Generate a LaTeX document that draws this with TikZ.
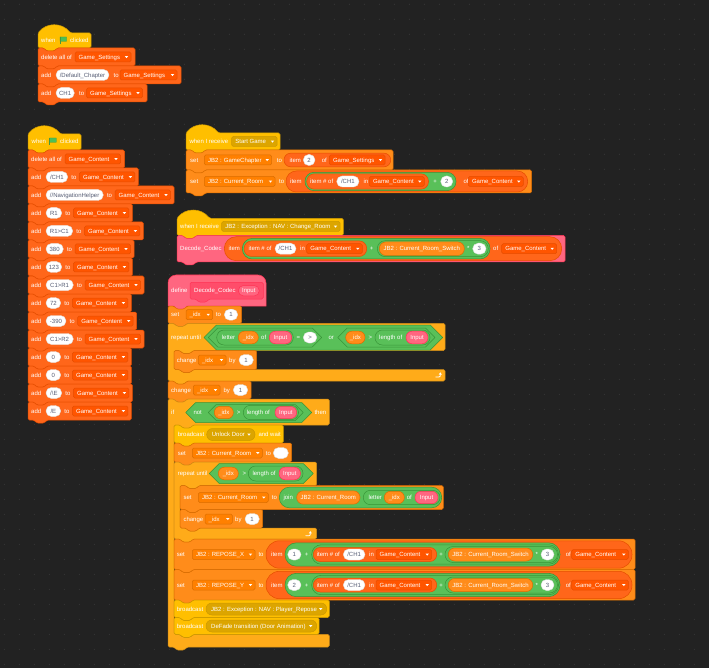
\documentclass[tikz,border=0pt]{standalone}
\usepackage{fontspec}
\setmainfont{Liberation Sans}
\usetikzlibrary{arrows.meta}
\definecolor{bg}{HTML}{222222}
\definecolor{dotc}{HTML}{3A3A3A}
\definecolor{evP}{HTML}{FFBF00}\definecolor{evS}{HTML}{DCA500}\definecolor{evT}{HTML}{CC9900}
\definecolor{lsP}{HTML}{FF661A}\definecolor{lsS}{HTML}{FF5500}\definecolor{lsT}{HTML}{E64D00}
\definecolor{vaP}{HTML}{FF8C1A}\definecolor{vaS}{HTML}{FF8000}\definecolor{vaT}{HTML}{DB6E00}
\definecolor{coP}{HTML}{FFAB19}\definecolor{coT}{HTML}{CF8B17}
\definecolor{opP}{HTML}{59C059}\definecolor{opT}{HTML}{389438}
\definecolor{myP}{HTML}{FF6680}\definecolor{myS}{HTML}{FF4D6A}\definecolor{myT}{HTML}{FF3355}
\definecolor{ptxt}{HTML}{575E75}
\definecolor{flagg}{HTML}{4CBF56}\definecolor{flagd}{HTML}{45993D}
\newcounter{nc}
\newcommand\fs{\fontsize{6}{7.2}\selectfont}
\tikzset{
  ev/.style={fill=evP,draw=evT,line width=0.5pt},
  ls/.style={fill=lsP,draw=lsT,line width=0.5pt},
  va/.style={fill=vaP,draw=vaT,line width=0.5pt},
  co/.style={fill=coP,draw=coT,line width=0.5pt},
  op/.style={fill=opP,draw=opT,line width=0.5pt},
  my/.style={fill=myP,draw=myT,line width=0.5pt},
  proto/.style={fill=myS,draw=myT,line width=0.5pt},
  lsdd/.style={fill=lsS,draw=lsT,line width=0.5pt},
  vadd/.style={fill=vaS,draw=vaT,line width=0.5pt},
  evdd/.style={fill=evS,draw=evT,line width=0.5pt},
  evhdd/.style={fill=evS,draw=evT,line width=0.5pt},
  wpst/.style={fill=white,draw=black!12,line width=0.4pt},
  txt/.style={anchor=base west,inner sep=0pt,font=\fs,text=white},
  gtxt/.style={anchor=base,inner sep=0pt,font=\fs,text=ptxt},
}
\newcommand\tx[3]{\stepcounter{nc}\node[txt] (t\arabic{nc}) at (#1,#2+2.1) {#3};}
\newcommand\sym[3]{\stepcounter{nc}\node[txt,anchor=base] (t\arabic{nc}) at (#1,#2+2.1) {#3};}
\newcommand\ddarr[2]{\fill[white] (#1-1.7,#2-0.9) -- (#1+1.7,#2-0.9) -- (#1,#2+1.1) -- cycle;}
\newcommand\ddn[5]{\path[#4,rounded corners=1.5] (#1,#3-5) rectangle (#2,#3+5); \tx{#1+3.5}{#3}{#5}\ddarr{#2-4.5}{#3}}
\newcommand\bdd[4]{\path[evdd,rounded corners=5.8] (#1,#3-6) rectangle (#2,#3+6); \tx{#1+5}{#3}{#4}\ddarr{#2-6}{#3}}
\newcommand\wpill[4]{\path[wpst,rounded corners=5.4] (#1,#3-5.5) rectangle (#2,#3+5.5); \stepcounter{nc}\node[gtxt] (t\arabic{nc}) at ({(#1+#2)/2},#3+2.1) {#4};}
\newcommand\repr[5]{\path[#5,rounded corners=#4*0.98] (#1,#3-#4) rectangle (#2,#3+#4);}
\newcommand\varp[5]{\repr{#1}{#2}{#3}{#4}{va}\stepcounter{nc}\node[txt,anchor=base] (t\arabic{nc}) at ({(#1+#2)/2},#3+2.1) {#5};}
\newcommand\argp[4]{\repr{#1}{#2}{#3}{#4}{my}\stepcounter{nc}\node[txt,anchor=base] (t\arabic{nc}) at ({(#1+#2)/2},#3+2.1) {Input};}
\newcommand\boolb[5]{\path[#5,line join=round] (#1,#3) -- (#1+#4,#3-#4) -- (#2-#4,#3-#4) -- (#2,#3) -- (#2-#4,#3+#4) -- (#1+#4,#3+#4) -- cycle;}
\newcommand\stk[5]{\path[#5,rounded corners=1.5] (#1,#2) -- (#1+6,#2) -- (#1+8.5,#2+3) -- (#1+16.5,#2+3) -- (#1+19,#2) -- (#3,#2) -- (#3,#4) -- (#1+19,#4) -- (#1+16.5,#4+3) -- (#1+8.5,#4+3) -- (#1+6,#4) -- (#1,#4) -- cycle;}
\newcommand\hatb[5]{\path[#5,rounded corners=1.5] (#1,#4) -- (#1,#2) .. controls (#1+8.5,#2-10.7) and (#1+24,#2-10.7) .. (#1+32.5,#2) -- (#3,#2) -- (#3,#4) -- (#1+19,#4) -- (#1+16.5,#4+3) -- (#1+8.5,#4+3) -- (#1+6,#4) -- cycle;}
\newcommand\defhat[5]{\path[#5] (#1,#4) -- (#1,#2+8) .. controls (#1,#2+3.6) and (#1+3.6,#2) .. (#1+8,#2) -- (#3-8,#2) .. controls (#3-3.6,#2) and (#3,#2+3.6) .. (#3,#2+8) -- (#3,#4) -- (#1+19,#4) -- (#1+16.5,#4+3) -- (#1+8.5,#4+3) -- (#1+6,#4) -- cycle;}
\newcommand\cblk[7]{\path[#7,rounded corners=1.5] (#1,#2) -- (#1+6,#2) -- (#1+8.5,#2+3) -- (#1+16.5,#2+3) -- (#1+19,#2) -- (#3,#2) -- (#3,#4) -- (#1+25,#4) -- (#1+22.5,#4+3) -- (#1+14.5,#4+3) -- (#1+12,#4) -- (#1+6,#4) -- (#1+6,#5) -- (#1+12,#5) -- (#1+14.5,#5+3) -- (#1+22.5,#5+3) -- (#1+25,#5) -- (#3,#5) -- (#3,#6) -- (#1+19,#6) -- (#1+16.5,#6+3) -- (#1+8.5,#6+3) -- (#1+6,#6) -- (#1,#6) -- cycle;}
\newcommand\flagicon[2]{\fill[flagg,draw=flagd,line width=0.3pt] (#1,#2-3.5) .. controls (#1+2,#2-4.8) and (#1+4,#2-2.2) .. (#1+6.5,#2-3.5) -- (#1+6.5,#2+0.8) .. controls (#1+4,#2+2.1) and (#1+2,#2-0.5) .. (#1,#2+0.8) -- cycle;
  \draw[flagd,line width=0.8pt] (#1,#2-3.9) -- (#1,#2+3.9);}
\newcommand\loopicon[2]{\draw[white,line width=0.8pt,line cap=round] (#1-2.5,#2+1.8) -- (#1+0.6,#2+1.8) .. controls (#1+2,#2+1.8) and (#1+2,#2+0.5) .. (#1+2,#2-0.8);
  \fill[white] (#1+0.5,#2-0.7) -- (#1+3.5,#2-0.7) -- (#1+2,#2-2.9) -- cycle;}
\newcommand\addrow[3]{\pgfmathsetmacro\qA{#2+11.7}\pgfmathsetmacro\qB{#2+67.2}\pgfmathsetmacro\qR{#2+70.7}\pgfmathsetmacro\qT{#1+18}\pgfmathsetmacro\qC{#1+9}%
  \stk{28}{#1}{\qR}{\qT}{ls}\tx{31}{\qC}{add}\wpill{46}{#2}{\qC}{#3}\tx{#2+3.5}{\qC}{to}\ddn{\qA}{\qB}{\qC}{lsdd}{Game\_Content}}
\newcommand\reposerow[3]{\pgfmathsetmacro\rT{#1}\pgfmathsetmacro\rC{#1+15.5}\pgfmathsetmacro\rB{#1+30.5}%
  \stk{174}{\rT}{635}{\rB}{va}
  \tx{176.7}{\rC}{set}
  \ddn{192.3}{255}{\rC}{vadd}{#2}
  \tx{258.3}{\rC}{to}
  \repr{266}{632}{\rC}{13.7}{ls}
  \tx{271}{\rC}{item}
  \repr{285}{560}{\rC}{11.7}{op}
  \wpill{287.7}{301}{\rC}{#3}
  \sym{306.5}{\rC}{+}
  \repr{311.7}{558.5}{\rC}{9.7}{op}
  \repr{313.3}{436.7}{\rC}{7}{ls}
  \tx{316.7}{\rC}{item \# of}
  \wpill{343.3}{365}{\rC}{/CH1}
  \tx{369}{\rC}{in}
  \ddn{376}{431.7}{\rC}{lsdd}{Game\_Content}
  \sym{441}{\rC}{+}
  \repr{445}{557.5}{\rC}{8}{op}
  \varp{448.3}{532.7}{\rC}{6.5}{JB2 : Current\_Room\_Switch}
  \sym{536.7}{\rC}{*}
  \wpill{541}{554}{\rC}{3}
  \tx{565.7}{\rC}{of}
  \ddn{571.7}{628.3}{\rC}{lsdd}{Game\_Content}}
\begin{document}
\begin{tikzpicture}[x=1pt,y=-1pt]
\useasboundingbox (0,0) rectangle (709,668);
\fill[bg] (0,0) rectangle (709,668);
\foreach \i in {0,...,47}{\foreach \j in {0,...,44}{\fill[dotc] (4.3+15*\i,4.3+15*\j) circle (0.55);}}

% ---------- Script 1 ----------
\hatb{38}{33}{91}{48}{ev}
\tx{41}{40.5}{when}\flagicon{60}{40.5}\tx{70}{40.5}{clicked}
\stk{38}{48}{135}{66}{ls}
\tx{41}{57}{delete all of}\ddn{75}{131}{57}{lsdd}{Game\_Settings}
\stk{38}{66}{181}{84}{ls}
\tx{41}{75}{add}\wpill{56}{109}{75}{/Default\_Chapter}\tx{113.5}{75}{to}\ddn{120}{177}{75}{lsdd}{Game\_Settings}
\stk{38}{84}{147}{102}{ls}
\tx{41}{93}{add}\wpill{56}{74.3}{93}{CH1}\tx{79}{93}{to}\ddn{86.5}{142.5}{93}{lsdd}{Game\_Settings}

% ---------- Script 2 ----------
\hatb{28}{134}{81}{150}{ev}
\tx{31.5}{141.5}{when}\flagicon{49.8}{141.5}\tx{60}{141.5}{clicked}
\stk{28}{150}{124.5}{168}{ls}
\tx{31}{159}{delete all of}\ddn{65}{120.5}{159}{lsdd}{Game\_Content}
\addrow{168}{67.7}{/CH1}
\addrow{186}{103.3}{//NavigationHelper}
\addrow{204}{61.7}{R1}
\addrow{222}{72.7}{R1>C1}
\addrow{240}{63.3}{380}
\addrow{258}{61.7}{123}
\addrow{276}{73.3}{C1>R1}
\addrow{294}{60.7}{72}
\addrow{312}{66}{-390}
\addrow{330}{73.3}{C1>R2}
\addrow{348}{60.7}{0}
\addrow{366}{60.7}{0}
\addrow{384}{61.7}{/\textbackslash E}
\addrow{402}{60.7}{/E}

% ---------- Script 3 ----------
\hatb{186}{133}{280}{150}{ev}
\tx{189.3}{141.5}{when I receive}\ddn{231.7}{277}{141.5}{evhdd}{Start Game}
\stk{186}{150}{393}{170}{va}
\tx{190}{160}{set}\ddn{204.3}{271.7}{160}{vadd}{JB2 : GameChapter}\tx{276.7}{160}{to}
\repr{284}{390.7}{160}{6.8}{ls}\tx{289.3}{160}{item}\wpill{303.3}{315}{160}{2}\tx{321.7}{160}{of}
\ddn{329.3}{385}{160}{lsdd}{Game\_Settings}
\stk{186}{170}{531.7}{193}{va}
\tx{190}{181.5}{set}\ddn{204.3}{275}{181.5}{vadd}{JB2 : Current\_Room}\tx{279}{181.5}{to}
\repr{286}{527.7}{181.5}{10.5}{ls}\tx{290}{181.5}{item}
\repr{305}{456}{181.5}{9.2}{op}
\repr{306.7}{428.5}{181.5}{7.7}{ls}\tx{310}{181.5}{item \# of}
\wpill{336.7}{359}{181.5}{/CH1}\tx{363.3}{181.5}{in}\ddn{369.3}{424.3}{181.5}{lsdd}{Game\_Content}
\sym{435}{181.5}{+}\wpill{440.7}{452.7}{181.5}{2}
\tx{463.3}{181.5}{of}\ddn{468.3}{523.3}{181.5}{lsdd}{Game\_Content}

% ---------- Script 4 ----------
\hatb{177}{218.3}{343.3}{235.5}{ev}
\tx{180}{226.5}{when I receive}\ddn{221.7}{340}{226.5}{evhdd}{JB2 : Exception : NAV : Change\_Room}
\stk{177}{235.5}{565}{262}{my}
\tx{180}{248.7}{Decode\_Codec}
\repr{224.3}{561.7}{248.7}{12}{ls}\tx{228.3}{248.7}{item}
\repr{242.3}{490}{248.7}{10.3}{op}
\repr{244}{366.7}{248.7}{7.8}{ls}\tx{248.3}{248.7}{item \# of}
\wpill{275}{296}{248.7}{/CH1}\tx{300}{248.7}{in}\ddn{306.7}{362.3}{248.7}{lsdd}{Game\_Content}
\sym{371.7}{248.7}{+}
\repr{377.3}{488.3}{248.7}{8}{op}
\varp{379.3}{464.3}{248.7}{6.8}{JB2 : Current\_Room\_Switch}
\sym{468.3}{248.7}{*}\wpill{472.7}{486}{248.7}{3}
\tx{493}{248.7}{of}\ddn{501.7}{556.7}{248.7}{lsdd}{Game\_Content}

% ---------- Script 5 ----------
\defhat{168}{275}{266}{306}{my}
\tx{171}{290.7}{define}
\path[proto,rounded corners=1.5] (190,282.3) -- (263.3,282.3) -- (263.3,299) -- (209,299) -- (206.5,302) -- (198.5,302) -- (196,299) -- (190,299) -- cycle;
\tx{194}{290.7}{Decode\_Codec}\argp{238.3}{259.3}{290.7}{5.2}
\stk{168}{306}{241.7}{323.3}{va}
\tx{171}{314.7}{set}\ddn{186}{212.7}{314.7}{vadd}{\_idx}\tx{215.7}{314.7}{to}\wpill{224.3}{237.7}{314.7}{1}
% repeat until (outer)
\cblk{168}{323.3}{445}{350.5}{369.5}{381}{co}
\tx{171}{337.5}{repeat until}
\boolb{204}{442.7}{337.5}{12.5}{op}
\boolb{208.3}{321.7}{337.5}{9.5}{op}
\repr{216.7}{293.3}{337.5}{7.5}{op}\tx{221.7}{337.5}{letter}
\varp{238.3}{258.3}{337.5}{6.3}{\_idx}\tx{261}{337.5}{of}\argp{269.3}{291.7}{337.5}{6.3}
\sym{298.3}{337.5}{=}\wpill{303.3}{316.7}{337.5}{>}
\tx{328.3}{337.5}{or}
\boolb{337.7}{435}{337.5}{9.5}{op}
\varp{345.7}{365}{337.5}{6.3}{\_idx}\sym{370.3}{337.5}{>}
\repr{375}{430}{337.5}{7.5}{op}\tx{379}{337.5}{length of}\argp{406}{428}{337.5}{6.3}
\stk{174}{350.5}{256.7}{369.5}{va}
\tx{176.7}{360}{change}\ddn{198.3}{226}{360}{vadd}{\_idx}\tx{229}{360}{by}\wpill{239}{253.3}{360}{1}
\loopicon{438.3}{375.2}
\stk{168}{381}{251}{399}{va}
\tx{171}{390}{change}\ddn{193.3}{220}{390}{vadd}{\_idx}\tx{223.3}{390}{by}\wpill{233.3}{247.7}{390}{1}
% if
\cblk{168}{399}{329.3}{425}{634.3}{647}{co}
\tx{171}{412.5}{if}
\boolb{185.7}{311.7}{412.5}{10}{op}\tx{193.3}{412.5}{not}
\boolb{208.3}{303.3}{412.5}{8}{op}
\varp{214.3}{233.3}{412.5}{6.2}{\_idx}\sym{238.7}{412.5}{>}
\repr{243.3}{298.5}{412.5}{7.2}{op}\tx{246.7}{412.5}{length of}\argp{275}{296.7}{412.5}{6}
\tx{314.3}{412.5}{then}
\stk{174}{425}{283.3}{443}{ev}
\tx{177.7}{434.5}{broadcast}\bdd{206.7}{255}{434.5}{Unlock Door}\tx{258.3}{434.5}{and wait}
\stk{174}{443}{291.7}{462}{va}
\tx{177.7}{453}{set}\ddn{192.3}{262.3}{453}{vadd}{JB2 : Current\_Room}\tx{265.7}{453}{to}\wpill{273.3}{288.3}{453}{}
% repeat until (inner)
\cblk{174}{462}{316.7}{485.5}{528}{539}{co}
\tx{177.7}{473.5}{repeat until}
\boolb{209.3}{313.3}{473.5}{10}{op}
\varp{218.3}{238.3}{473.5}{6.3}{\_idx}\sym{244.3}{473.5}{>}
\repr{248.3}{303}{473.5}{7.5}{op}\tx{252.3}{473.5}{length of}\argp{279}{300.5}{473.5}{6.3}
\stk{180}{485.5}{443.3}{509.5}{va}
\tx{183.3}{497.5}{set}\ddn{198.3}{268.3}{497.5}{vadd}{JB2 : Current\_Room}\tx{271.7}{497.5}{to}
\repr{279.3}{441.7}{497.5}{10.3}{op}\tx{283.3}{497.5}{join}
\varp{296.7}{360}{497.5}{6.7}{JB2 : Current\_Room}
\repr{363.3}{440}{497.5}{7.2}{op}\tx{368.3}{497.5}{letter}
\varp{384.3}{404.3}{497.5}{6.2}{\_idx}\tx{406.7}{497.5}{of}\argp{415}{438}{497.5}{6.2}
\stk{180}{509.5}{262.7}{528}{va}
\tx{183.3}{519}{change}\ddn{205}{232.3}{519}{vadd}{\_idx}\tx{235}{519}{by}\wpill{245}{259.3}{519}{1}
\loopicon{308.3}{534}
% repose rows
\reposerow{539}{JB2 : REPOSE\_X}{1}
\reposerow{569.5}{JB2 : REPOSE\_Y}{2}
\stk{174}{600}{329.3}{617.5}{ev}
\tx{176.7}{609}{broadcast}\bdd{206}{326.7}{609}{JB2 : Exception : NAV : Player\_Repose}
\stk{174}{617.5}{319}{634.3}{ev}
\tx{176.7}{626}{broadcast}\bdd{206}{316.7}{626}{DeFade transition (Door Animation)}
\end{tikzpicture}
\end{document}
